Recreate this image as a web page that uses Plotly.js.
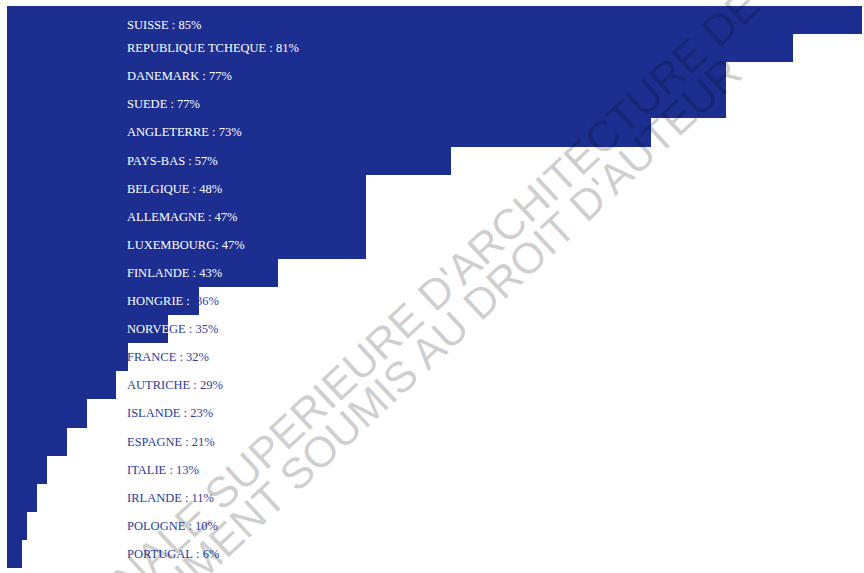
<!DOCTYPE html>
<html>
<head>
<meta charset="utf-8">
<script src="https://cdn.plot.ly/plotly-3.0.1.min.js"></script>
<style>
  html, body { margin: 0; padding: 0; background: #ffffff; }
  #chart { width: 864px; height: 573px; }
</style>
</head>
<body>
<div id="chart"></div>
<script>
// ---- data ----
const countries = ["SUISSE", "REPUBLIQUE TCHEQUE", "DANEMARK", "SUEDE", "ANGLETERRE",
  "PAYS-BAS", "BELGIQUE", "ALLEMAGNE", "LUXEMBOURG", "FINLANDE", "HONGRIE", "NORVEGE",
  "FRANCE", "AUTRICHE", "ISLANDE", "ESPAGNE", "ITALIE", "IRLANDE", "POLOGNE", "PORTUGAL"];
const percents = [85, 81, 77, 77, 73, 57, 48, 47, 47, 43, 36, 35, 32, 29, 23, 21, 13, 11, 10, 6];
const labels = ["SUISSE : 85%", "REPUBLIQUE TCHEQUE : 81%", "DANEMARK : 77%", "SUEDE : 77%",
  "ANGLETERRE : 73%", "PAYS-BAS : 57%", "BELGIQUE : 48%", "ALLEMAGNE : 47%",
  "LUXEMBOURG: 47%", "FINLANDE : 43%", "HONGRIE :  36%", "NORVEGE : 35%", "FRANCE : 32%",
  "AUTRICHE : 29%", "ISLANDE : 23%", "ESPAGNE : 21%", "ITALIE : 13%", "IRLANDE : 11%",
  "POLOGNE : 10%", "PORTUGAL : 6%"];
// drawn bar lengths as they appear in the picture (same scale, full width = 85)
const barLengths = [85, 78.1, 71.5, 71.5, 64.0, 44.1, 35.7, 35.7, 35.7, 26.9,
  19.1, 16.0, 12.0, 10.8, 8.0, 6.0, 4.0, 3.0, 2.0, 1.5];
const watermarkLines = ["ECOLE NATIONALE SUPERIEURE D'ARCHITECTURE DE",
  "DOCUMENT SOUMIS AU DROIT D'AUTEUR"];

// ---- styles ----
const W = 864, H = 573;
const M = { l: 7, r: 2, t: 6, b: 5 };
const XMAX = 85;
const BAR_COLOR = "#1c2e8f";
const TEXT_BLUE = "#2c3c9c";
const LABEL_X = 11.93;
const LABEL_SIZE = 12.5;
const LABEL_FONT = "Liberation Serif";
const LABEL_YSHIFT = { "SUISSE": -5 };

const plotW = W - M.l - M.r;
const pxPerUnit = plotW / XMAX;

const ctx = document.createElement("canvas").getContext("2d");
ctx.font = LABEL_SIZE + "px '" + LABEL_FONT + "'";
const measure = s => ctx.measureText(s).width;

const barTrace = {
  type: "bar",
  orientation: "h",
  x: barLengths,
  y: countries,
  marker: { color: BAR_COLOR, line: { width: 0 } },
  hoverinfo: "skip"
};

function labelAnn(x, y, text, color, ys) {
  return {
    x: x, y: y, xref: "x", yref: "y",
    text: text, showarrow: false,
    xanchor: "left", yanchor: "middle",
    borderpad: 0, borderwidth: 0,
    yshift: ys || 0,
    font: { family: LABEL_FONT + ", Times New Roman, serif", size: LABEL_SIZE, color: color }
  };
}

const annotations = [];
labels.forEach((raw, i) => {
  const t = raw.replace(/ /g, "\u00a0");
  const ys = LABEL_YSHIFT[countries[i]] || 0;
  const avail = (barLengths[i] - LABEL_X) * pxPerUnit;   // white part width in px
  const full = measure(t);
  if (avail >= full) {
    annotations.push(labelAnn(LABEL_X, countries[i], t, "#ffffff", ys));
  } else if (avail <= 0) {
    annotations.push(labelAnn(LABEL_X, countries[i], t, TEXT_BLUE, ys));
  } else {
    // split the label where the bar ends: white on the bar, blue beyond it
    let k = 0, best = Infinity;
    for (let j = 0; j <= t.length; j++) {
      const d = Math.abs(measure(t.slice(0, j)) - avail);
      if (d < best) { best = d; k = j; }
    }
    const w = measure(t.slice(0, k));
    if (k > 0) annotations.push(labelAnn(LABEL_X, countries[i], t.slice(0, k), "#ffffff", ys));
    if (k < t.length) annotations.push(labelAnn(LABEL_X + w / pxPerUnit, countries[i], t.slice(k), TEXT_BLUE, ys));
  }
});

const wmPos = [[332, 389], [415, 363]];
watermarkLines.forEach((t, i) => {
  annotations.push({
    xref: "paper", yref: "paper",
    x: (wmPos[i][0] - M.l) / plotW,
    y: 1 - (wmPos[i][1] - M.t) / (H - M.t - M.b),
    text: t,
    showarrow: false,
    textangle: -43,
    xanchor: "center",
    yanchor: "middle",
    font: { family: "Liberation Sans, Arial, sans-serif", size: 43, color: "rgba(0,0,0,0.2)" }
  });
});

const layout = {
  width: W,
  height: H,
  margin: { l: M.l, r: M.r, t: M.t, b: M.b, pad: 0 },
  paper_bgcolor: "#ffffff",
  plot_bgcolor: "#ffffff",
  bargap: 0,
  showlegend: false,
  xaxis: { range: [0, XMAX], visible: false, fixedrange: true },
  yaxis: { type: "category", autorange: "reversed", visible: false, fixedrange: true },
  annotations: annotations
};

Plotly.newPlot("chart", [barTrace], layout, { displayModeBar: false, staticPlot: true });
</script>
</body>
</html>
